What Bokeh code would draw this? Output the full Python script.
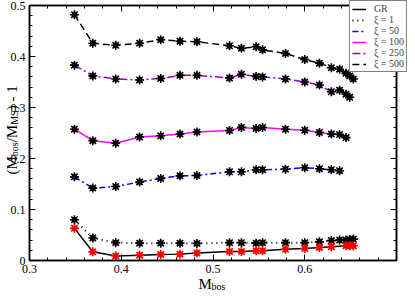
from math import pi
from bokeh.plotting import figure
from bokeh.layouts import column
from bokeh.models import (Range1d, LinearAxis, FixedTicker, Legend, LegendItem, Label)
from bokeh.embed import file_html
from bokeh.resources import INLINE

# ---- data ----
m_bos = [0.349, 0.369, 0.394, 0.420, 0.443, 0.464, 0.4825, 0.518, 0.531, 0.547,
         0.554, 0.579, 0.600, 0.616, 0.629, 0.638, 0.645, 0.649, 0.653]

gr_x = [0.349, 0.369, 0.394, 0.420, 0.443, 0.464, 0.4825, 0.518, 0.531, 0.547,
        0.554, 0.579, 0.600, 0.616, 0.629, 0.645, 0.649, 0.653]
gr_y = [0.063, 0.017, 0.009, 0.0105, 0.012, 0.0125, 0.0145, 0.0175, 0.0175, 0.019,
        0.019, 0.022, 0.0235, 0.0255, 0.027, 0.029, 0.029, 0.029]

xi1_y = [0.080, 0.044, 0.035, 0.034, 0.034, 0.034, 0.0335, 0.035, 0.035, 0.034,
         0.035, 0.035, 0.035, 0.0366, 0.039, 0.040, 0.040, 0.041, 0.042]
xi50_y = [0.164, 0.142, 0.145, 0.154, 0.161, 0.166, 0.1667, 0.174, 0.174, 0.178,
          0.178, 0.179, 0.182, 0.180, 0.178, 0.176]
xi100_y = [0.2575, 0.235, 0.230, 0.242, 0.2445, 0.248, 0.252, 0.255, 0.261, 0.259,
           0.261, 0.2575, 0.2555, 0.251, 0.248, 0.247, 0.241]
xi250_y = [0.383, 0.362, 0.356, 0.354, 0.357, 0.363, 0.363, 0.358, 0.365, 0.361,
           0.360, 0.356, 0.350, 0.344, 0.331, 0.334, 0.326, 0.320]
xi500_y = [0.482, 0.426, 0.422, 0.426, 0.433, 0.430, 0.429, 0.421, 0.416, 0.419,
           0.413, 0.406, 0.394, 0.387, 0.378, 0.375, 0.367, 0.362, 0.356]

legend_labels = ["GR", "ξ = 1", "ξ = 50", "ξ = 100", "ξ = 250", "ξ = 500"]
x_ticks = [0.3, 0.4, 0.5, 0.6, 0.7]
y_ticks = [0.0, 0.1, 0.2, 0.3, 0.4, 0.5]

FONT = "Liberation Serif"
W, H = 407, 291

p = figure(width=W, height=H, output_backend="svg", toolbar_location=None,
           x_range=Range1d(0.3, 0.7), y_range=Range1d(0.0, 0.5),
           x_axis_type=None, y_axis_type=None,
           min_border_left=29, min_border_right=11, min_border_top=5, min_border_bottom=31)
p.outline_line_color = "black"
p.outline_line_width = 1.5
p.background_fill_color = "white"
p.border_fill_color = "white"

x_minor = [round(0.3 + 0.02 * i, 2) for i in range(21)]
y_minor = [round(0.02 * i, 2) for i in range(26)]

def make_axis(ticks, minor, show_labels):
    ax = LinearAxis(ticker=FixedTicker(ticks=ticks, minor_ticks=minor))
    ax.axis_line_width = 1.5
    ax.axis_line_color = "black"
    ax.major_tick_in = 6
    ax.major_tick_out = 0
    ax.minor_tick_in = 3
    ax.minor_tick_out = 0
    ax.major_tick_line_width = 1
    ax.minor_tick_line_width = 1
    if show_labels:
        ax.major_label_text_font = FONT
        ax.major_label_text_font_size = "12px"
        ax.major_label_text_color = "black"
        ax.major_label_standoff = 4
    else:
        ax.major_label_overrides = {t: "" for t in ticks}
        ax.major_label_text_font_size = "1px"
        ax.major_label_text_color = None
        ax.major_label_standoff = 0
    return ax

xb = make_axis(x_ticks, x_minor, True)
xb.major_label_overrides = {0.7: ""}
yl = make_axis(y_ticks, y_minor, True)
yl.major_label_overrides = {0.0: "0"}
p.add_layout(xb, "below")
p.add_layout(yl, "left")
p.add_layout(make_axis(x_ticks, x_minor, False), "above")
p.add_layout(make_axis(y_ticks, y_minor, False), "right")

def markers(x, y, color):
    p.scatter(x, y, marker="circle", size=5, fill_color=color, line_color=color)
    p.scatter(x, y, marker="asterisk", size=9, line_color=color, line_width=1.6)

styles = [
    dict(line_color="black", line_width=1.5),
    dict(line_color="black", line_width=2, line_dash="1 4"),
    dict(line_color="#0000ff", line_width=1.5, line_dash="6 3 2 3"),
    dict(line_color="#ff00ff", line_width=1.5),
    dict(line_color="#9400d3", line_width=1.5, line_dash="8 3 2 3"),
    dict(line_color="black", line_width=1.5, line_dash="7 4"),
]

p.line(gr_x, gr_y, **styles[0])
p.line(m_bos, xi1_y, **styles[1])
p.line(m_bos[:len(xi50_y)], xi50_y, **styles[2])
p.line(m_bos[:len(xi100_y)], xi100_y, **styles[3])
p.line(m_bos[:len(xi250_y)], xi250_y, **styles[4])
p.line(m_bos, xi500_y, **styles[5])

markers(m_bos, xi1_y, "black")
markers(m_bos[:len(xi50_y)], xi50_y, "black")
markers(m_bos[:len(xi100_y)], xi100_y, "black")
markers(m_bos[:len(xi250_y)], xi250_y, "black")
markers(m_bos, xi500_y, "black")
markers(gr_x, gr_y, "#ff0000")

# ---- transparent overlay canvas for texts that sit outside the plot frame ----
q = figure(width=W, height=H, output_backend="svg", toolbar_location=None,
           x_range=Range1d(0, 1), y_range=Range1d(0, 1),
           x_axis_type=None, y_axis_type=None,
           min_border_left=0, min_border_right=0, min_border_top=0, min_border_bottom=0,
           margin=(-H, 0, 0, 0))
q.outline_line_color = None
q.background_fill_color = None
q.border_fill_color = None
for fig in (p, q):
    if "frame_align" in fig.properties():
        fig.frame_align = False

nan = float("nan")
proxies = [q.line([nan], [nan], **s) for s in styles]
legend = Legend(items=[LegendItem(label=l, renderers=[r]) for l, r in zip(legend_labels, proxies)],
                location="top_right")
legend.label_text_font = FONT
legend.label_text_font_size = "10px"
legend.label_height = 10
legend.glyph_height = 10
legend.glyph_width = 14
legend.spacing = 0
legend.padding = 2
legend.margin = 0
legend.label_standoff = 8
legend.border_line_color = "black"
legend.border_line_width = 1
legend.background_fill_color = "white"
legend.background_fill_alpha = 1.0
q.add_layout(legend, "center")

def lab(x, y, t, size, angle=0.0):
    q.add_layout(Label(x=x, y=y, x_units="screen", y_units="screen", text=t,
                       text_font=FONT, text_font_size=size, text_color="black",
                       angle=angle, text_align="left", text_baseline="alphabetic"))

# x title: M_bos
lab(198, 8, "M", "15px")
lab(211, 5, "bos", "10px")

# y title: (M_bos/M_MS) - 1, rotated
XM, XS = 11, 14
lab(XM, 117.0, "(M", "15px", pi / 2)
lab(XS, 135.3, "bos", "10px", pi / 2)
lab(XM, 149.2, "/M", "15px", pi / 2)
lab(XS, 166.7, "MS", "10px", pi / 2)
lab(XM, 181.2, ") - 1", "15px", pi / 2)

layout = column(p, q)
open("out.html", "w").write(file_html(layout, INLINE))
